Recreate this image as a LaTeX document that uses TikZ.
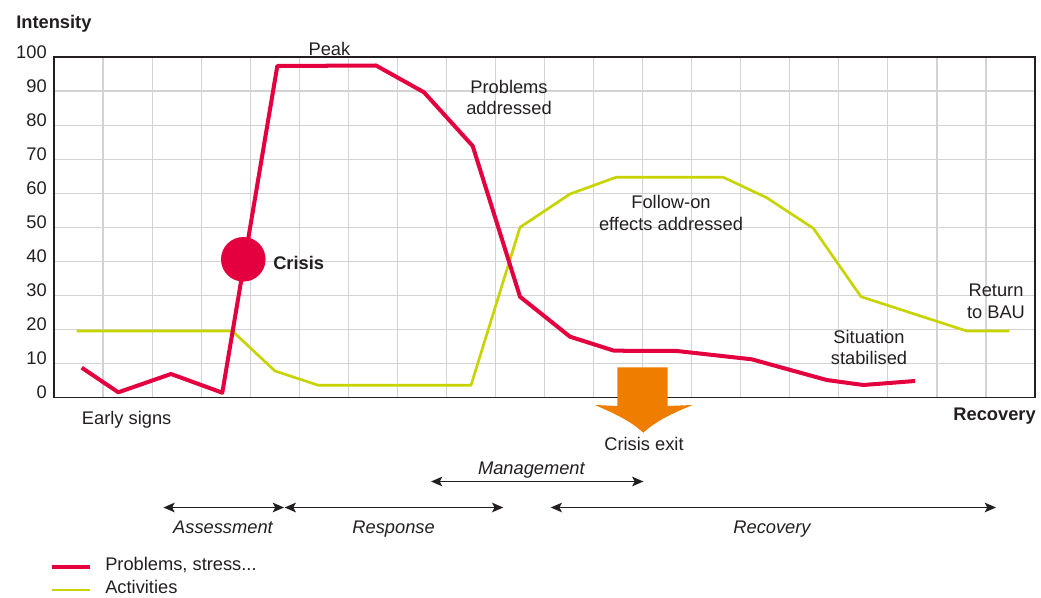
\documentclass[tikz,border=0pt]{standalone}
\usepackage{fontspec}
\setmainfont{Liberation Sans}
\usetikzlibrary{arrows.meta}
\definecolor{crisisred}{HTML}{E4003F}
\definecolor{actgreen}{HTML}{C8D400}
\definecolor{exitorange}{HTML}{EF7D00}
\definecolor{gridgray}{HTML}{D3D3D3}
\definecolor{txt}{HTML}{231F20}
\begin{document}
\begin{tikzpicture}[x=0.025cm,y=-0.025cm,
  lbl/.style={font=\fontsize{13}{15.5}\selectfont, text=txt, inner sep=0pt, align=center},
  boldlbl/.style={lbl, font=\fontsize{13}{15.5}\selectfont\bfseries},
  itlbl/.style={lbl, font=\fontsize{13}{15.5}\selectfont\itshape},
  gridline/.style={draw=gridgray, line width=0.85pt},
  frameline/.style={draw=txt, line width=1pt},
  redline/.style={draw=crisisred, line width=2.85pt, line join=round},
  greenline/.style={draw=actgreen, line width=1.9pt, line join=round},
  phase/.style={draw=txt, line width=1.1pt, {Stealth[length=8pt,width=6.8pt,inset=1.8pt]}-{Stealth[length=8pt,width=6.8pt,inset=1.8pt]}}
]
\useasboundingbox (0,0) rectangle (1041,598);

% grid
\foreach \i in {1,...,19} {
  \draw[gridline] ({54+49.05*\i},57) -- ({54+49.05*\i},397.7);
}
\foreach \j in {1,...,9} {
  \draw[gridline] (54,{397.7-34.07*\j}) -- (1035,{397.7-34.07*\j});
}
% frame
\draw[frameline] (54,57) rectangle (1035,397.7);

% tick labels
\foreach \j/\v in {0/0,1/10,2/20,3/30,4/40,5/50,6/60,7/70,8/80,9/90,10/100} {
  \node[lbl, anchor=base east] (tick\j) at (47,{397.7-34.07*\j+1}) {\v};
}

% activities (green)
\draw[greenline] (76.7,331) -- (232.3,331) -- (275,371) -- (318.3,385.3) -- (471,385.3)
  -- (520,227.3) -- (570,194) -- (616,177.3) -- (723.3,177.3) -- (766.7,197.7)
  -- (813.3,228.3) -- (861,296.7) -- (966.7,331) -- (1009.3,331);

% problems (red)
\draw[redline] (81.7,367.7) -- (118.3,392.3) -- (171,374) -- (222.3,392.7) -- (277.3,66)
  -- (376,65.5) -- (424,92.3) -- (472.7,146) -- (520,296.7) -- (570,336.7)
  -- (614,350.7) -- (677,351) -- (751.7,359.3) -- (826.7,380) -- (863.3,385) -- (915,381);

% crisis dot
\node[circle, fill=crisisred, inner sep=0pt, minimum size=31.7pt] (dot) at (243.3,259.3) {};

% crisis exit arrow
\fill[exitorange] (617.3,367.3) -- (667.7,367.3) -- (667.7,406) -- (692.5,405)
  .. controls (671,414) and (656,421) .. (643.3,432.7)
  .. controls (630.6,421) and (615.6,414) .. (595,405) -- (617.3,406) -- cycle;

% labels in chart
\node[boldlbl, anchor=base west] (intensity) at (16,28.3) {Intensity};
\node[lbl, anchor=base west] (peak) at (308.3,55) {Peak};
\node[lbl] (probaddr) at (509,97.5) {Problems\\addressed};
\node[lbl] (follow) at (671,213.3) {Follow-on\\effects addressed};
\node[lbl] (bau) at (996,301.5) {Return\\to BAU};
\node[lbl] (stab) at (869,347.5) {Situation\\stabilised};
\node[boldlbl, anchor=base west] (crisis) at (273,269.3) {Crisis};
\node[lbl, anchor=base west] (early) at (81.7,424) {Early signs};
\node[boldlbl, anchor=base east] (recov) at (1036,420) {Recovery};
\node[lbl, anchor=base] (exit) at (644,450.7) {Crisis exit};

% phase arrows
\coordinate (mA) at (431,481.5);
\coordinate (mB) at (643.4,481.5);
\coordinate (aA) at (163.4,507.5);
\coordinate (aB) at (284,507.5);
\coordinate (rA) at (284.6,507.5);
\coordinate (rB) at (503.3,507.5);
\coordinate (cA) at (550.7,507.5);
\coordinate (cB) at (996,507.5);
\draw[phase] (mA) -- (mB);
\draw[phase] (aA) -- (aB);
\draw[phase] (rA) -- (rB);
\draw[phase] (cA) -- (cB);
\node[itlbl, anchor=base] (mgmt) at (531.4,474.8) {Management};
\node[itlbl, anchor=base] (assess) at (223,533.7) {Assessment};
\node[itlbl, anchor=base] (resp) at (393.6,533.7) {Response};
\node[itlbl, anchor=base] (recphase) at (772,533.2) {Recovery};

% legend
\coordinate (lr1) at (51.7,566.7);
\coordinate (lr2) at (90,566.7);
\coordinate (lg1) at (51.7,590);
\coordinate (lg2) at (90,590);
\draw[draw=crisisred, line width=2.85pt] (lr1) -- (lr2);
\draw[draw=actgreen, line width=2.1pt] (lg1) -- (lg2);
\node[lbl, anchor=base west] (legred) at (105,570.7) {Problems, stress...};
\node[lbl, anchor=base west] (leggreen) at (105,593.3) {Activities};
\end{tikzpicture}
\end{document}
